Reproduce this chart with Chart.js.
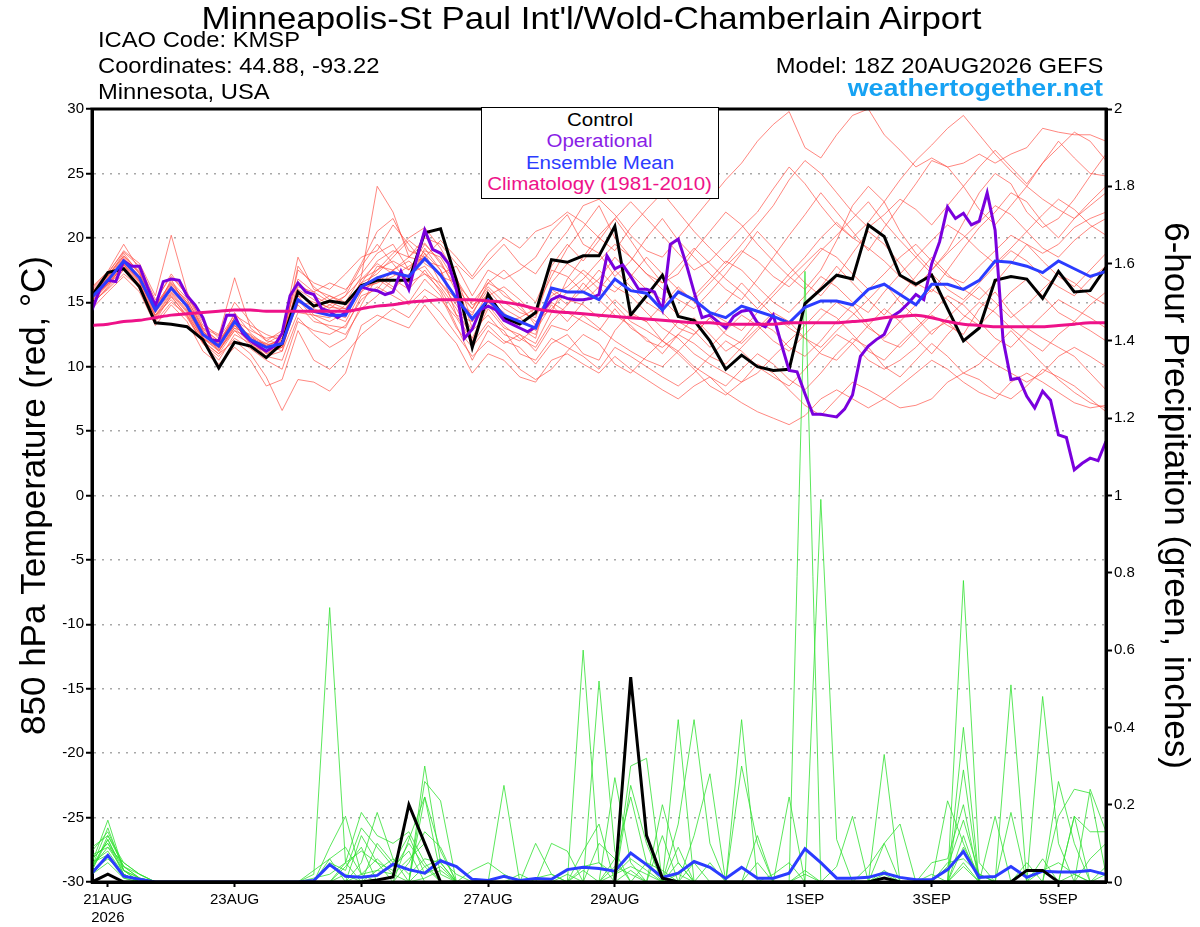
<!DOCTYPE html>
<html lang="en">
<head>
    <meta charset="UTF-8">
    <title>KMSP GEFS Plume</title>
    <style>
        body { margin: 0; background: #fff; font-family: "Liberation Sans", Arial, sans-serif; }
        #wrap { position: relative; width: 1200px; height: 927px; overflow: hidden; }
        #plume { position: absolute; left: 0; top: 0; }
        .hdr { position: absolute; white-space: nowrap; line-height: 1; color: #000; }
        .hdr span { display: inline-block; }
        #title { left: 0; width: 1182px; text-align: center; top: 2px; font-size: 32px; }
        #title span { transform: scaleX(1.088); transform-origin: center; }
        .info { left: 98px; font-size: 22px; }
        .info span { transform: scaleX(1.08); transform-origin: left; }
        .right { left: auto; right: 97px; text-align: right; }
        .right span { transform-origin: right; }
        #site { font-size: 24px; font-weight: bold; color: #16a2f3; top: 76px; }
        #site span { transform: scaleX(1.12); }
        #legendBox {
            position: absolute; left: 481px; top: 107px; width: 236px; height: 88.5px;
            border: 1.5px solid #000; background: #fff; text-align: center;
            font-size: 18px; padding-top: 1.5px; box-sizing: content-box;
        }
        #legendBox div { line-height: 21.5px; height: 21.5px; }
        #legendBox span { display: inline-block; transform: scaleX(1.14); transform-origin: center; }
    </style>
    <!-- Chart.js -->
    <script src="https://cdn.jsdelivr.net/npm/chart.js"></script>
</head>
<body>
<div id="wrap">
    <canvas id="plume" width="1200" height="927"></canvas>
    <div id="title" class="hdr"><span>Minneapolis-St Paul Int'l/Wold-Chamberlain Airport</span></div>
    <div class="hdr info" style="top:29px"><span>ICAO Code: KMSP</span></div>
    <div class="hdr info" style="top:55px"><span>Coordinates: 44.88, -93.22</span></div>
    <div class="hdr info" style="top:81px"><span>Minnesota, USA</span></div>
    <div class="hdr info right" style="top:55px"><span>Model: 18Z 20AUG2026 GEFS</span></div>
    <div id="site" class="hdr right"><span>weathertogether.net</span></div>
    <div id="legendBox">
        <div style="color:#000"><span>Control</span></div>
        <div style="color:#8a1ee6"><span>Operational</span></div>
        <div style="color:#2b3cff"><span>Ensemble Mean</span></div>
        <div style="color:#ee1289"><span>Climatology (1981-2010)</span></div>
    </div>
</div>

<script>
    // x axis: hours after 18Z 20AUG2026, 6-hourly for the ensemble, 3-hourly for the operational run
    const STEP = 6;
    const OP_STEP = 3;
    const tickHours = [6, 54, 102, 150, 198, 270, 318, 366];
    const tickLabels = [['21AUG', '2026'], '23AUG', '25AUG', '27AUG', '29AUG', '1SEP', '3SEP', '5SEP'];

    // 850 hPa temperature (C)
    const controlTemp = [15.5,17.3,17.6,16.2,13.4,13.3,13.1,12.1,9.9,11.9,11.6,10.7,11.8,
        15.8,14.7,15.1,14.9,16.3,16.7,16.7,16.7,20.4,20.7,16.7,11.5,15.6,
        13.8,13.3,14.2,18.3,18.1,18.6,18.6,20.9,14.0,15.5,17.1,13.9,13.6,
        12.0,9.8,10.9,10.0,9.7,9.8,14.9,16.0,17.1,16.8,21.0,20.1,17.1,16.4,
        17.1,14.5,12.0,13.0,16.7,17.0,16.8,15.3,17.4,15.8,15.9,17.7];

    const meanTemp = [15.4,16.7,18.2,16.9,14.4,16.1,14.7,12.5,11.6,13.5,12.1,11.5,11.8,
        15.2,14.3,14.0,14.0,16.2,16.9,17.3,17.0,18.4,17.1,15.3,13.7,15.2,
        14.0,13.5,13.0,16.1,15.8,15.8,15.2,16.8,15.9,15.7,14.4,15.8,15.2,
        14.2,13.8,14.7,14.3,13.9,13.4,14.6,15.1,15.1,14.8,16.0,16.4,15.6,14.8,
        16.4,16.4,16.0,16.7,18.2,18.1,17.8,17.3,18.2,17.6,17.0,17.4];

    const climoTemp = [13.2,13.3,13.5,13.6,13.8,14.0,14.1,14.2,14.3,14.4,14.4,14.3,14.3,
        14.3,14.3,14.3,14.3,14.5,14.7,14.8,15.0,15.1,15.2,15.2,15.2,15.1,
        15.0,14.8,14.5,14.3,14.2,14.1,14.0,13.9,13.8,13.7,13.6,13.5,13.4,
        13.4,13.3,13.3,13.3,13.3,13.4,13.4,13.4,13.4,13.5,13.6,13.8,13.9,14.0,
        13.8,13.5,13.3,13.2,13.1,13.1,13.1,13.1,13.2,13.3,13.4,13.4];

    const operationalTemp = [14.4,16.0,16.7,16.6,18.2,17.8,17.8,16.2,14.7,16.6,16.8,16.7,15.5,14.8,13.8,12.1,
        12.0,14.0,14.0,12.6,12.0,11.6,11.2,11.6,12.6,15.5,16.5,15.8,15.6,14.5,14.3,13.8,14.2,
        15.2,16.2,16.0,15.9,15.6,15.8,17.4,16.0,18.4,20.6,19.1,18.8,18.0,16.0,12.2,12.9,14.4,
        14.7,14.4,13.6,13.3,13.0,12.7,13.1,14.4,15.2,15.5,15.3,15.2,15.2,15.3,
        15.6,18.6,17.6,17.9,17.0,16.0,16.0,15.8,14.4,19.5,19.9,18.0,15.8,13.8,14.0,13.5,
        13.0,13.9,14.3,14.4,13.4,13.1,14.0,11.8,9.7,9.6,7.9,6.3,6.3,6.2,6.1,6.7,
        7.8,10.8,11.6,12.1,12.5,13.9,14.3,14.9,15.6,15.2,18.0,19.7,22.4,21.5,21.9,21.0,
        21.3,23.5,20.6,12.1,9.0,9.1,7.7,6.8,8.1,7.4,4.7,4.5,2.0,2.5,2.9,2.7,4.2];

    const memberTemps = [
        [15.8,17.0,18.8,17.2,14.8,16.5,15.0,12.8,11.2,13.0,12.5,11.0,11.5, 16.0,15.2,14.5,15.5,17.8,19.5,18.0,16.5,19.2,17.5,14.0,12.0,14.5, 13.0,12.5,11.8,14.2,16.8,18.5,20.2,21.5,19.8,18.0,16.5,17.2,19.0, 20.5,22.0,21.0,19.5,18.2,17.0,16.0,17.5,19.8,22.5,24.0,22.8,20.5, 18.8,17.5,19.0,21.2,23.5,25.0,24.2,22.0,20.8,21.5,23.0,24.8,26.5],
        [15.2,16.4,17.8,16.5,13.9,15.6,14.2,12.0,11.0,12.8,11.6,11.2,12.0, 14.8,13.5,13.2,13.0,15.5,16.0,17.5,18.5,19.6,18.0,16.2,14.5,16.8, 15.5,14.8,13.2,15.0,14.2,13.5,12.8,14.5,13.0,12.2,11.0,12.5,13.8, 12.5,11.2,12.0,13.5,12.8,11.5,10.8,12.0,13.5,14.8,13.2,12.0,11.5, 12.8,14.0,13.2,12.5,14.5,15.8,14.2,13.0,12.2,11.5,10.8,9.5,8.2],
        [14.8,16.2,18.0,16.0,14.0,15.2,13.8,11.8,10.5,12.5,11.8,10.8,10.5, 13.8,12.5,11.5,12.2,14.8,17.0,16.2,15.0,16.8,15.5,13.0,11.5,13.2, 12.0,11.5,10.2,11.8,12.5,11.0,10.5,12.8,14.2,13.5,12.0,11.2,10.0, 9.2,8.5,9.8,11.0,10.2,9.0,8.2,9.5,11.0,12.2,11.5,10.0,9.2, 10.5,11.8,10.8,9.5,10.2,11.5,12.8,11.5,10.2,9.0,8.0,7.2,6.8],
        [16.2,17.4,19.5,17.5,15.0,17.2,15.5,13.5,12.2,14.0,13.2,12.5,12.0, 17.5,16.5,16.0,17.2,18.5,19.0,21.0,19.5,18.0,17.2,17.8,15.5,17.5, 16.8,17.5,18.5,20.5,21.8,19.5,18.8,17.0,18.2,20.0,21.5,19.8,18.5, 17.2,16.0,15.2,16.8,18.5,20.2,21.8,23.5,22.0,20.5,19.0,20.8,22.5, 24.2,26.0,25.5,24.0,22.2,21.0,22.5,24.0,25.8,27.0,28.2,27.5,26.0],
        [15.0,16.0,17.2,16.2,13.5,15.0,14.0,12.2,11.5,13.8,12.0,11.8,12.5, 15.5,14.0,13.5,14.2,16.0,17.5,18.8,20.0,20.8,19.2,17.0,13.5,15.0, 13.8,13.0,12.2,16.5,18.0,17.2,16.0,17.5,16.2,15.0,14.2,13.0,12.5, 13.8,15.0,16.5,15.2,14.0,13.2,14.8,16.2,17.8,16.5,15.2,14.0,15.5, 17.0,18.5,17.2,16.0,15.2,16.5,18.0,19.5,18.2,17.0,16.2,17.5,18.8],
        [15.6,16.8,18.4,17.0,14.5,16.0,14.8,12.6,11.8,13.2,12.4,11.8,11.2, 15.8,14.8,14.2,13.8,16.8,18.0,17.2,16.8,18.8,16.5,14.8,12.8,14.0, 12.5,12.0,13.0,15.8,14.8,16.5,15.2,14.0,13.2,12.0,11.5,12.5,11.8, 10.8,10.2,11.5,12.8,14.0,13.0,12.2,11.0,10.5,11.8,13.2,14.5,13.5, 12.2,11.0,12.5,13.8,15.0,14.2,13.0,12.0,11.2,12.5,13.5,12.8,12.0],
        [16.0,17.2,19.0,18.0,15.5,20.2,15.8,13.2,12.5,15.0,13.5,12.0,12.8, 18.5,16.0,15.5,15.0,17.0,24.0,22.0,18.5,20.0,19.5,18.0,16.8,18.2, 19.5,18.0,17.2,19.0,20.5,22.5,23.0,21.8,20.2,19.0,18.5,20.0,21.5, 23.0,24.5,25.8,27.5,28.8,29.8,27.0,26.2,28.0,29.5,30.0,28.0,26.8, 25.5,26.2,25.5,25.8,26.5,25.8,26.5,27.0,28.5,28.2,28.0,28.0,27.5],
        [14.5,15.8,17.0,15.8,13.2,14.8,13.5,11.2,10.2,11.5,10.5,8.5,9.0, 12.8,10.5,9.8,11.0,12.5,13.5,14.5,13.8,15.5,14.2,12.5,10.8,12.0, 11.2,9.8,9.0,9.8,11.2,12.5,11.8,10.2,9.5,10.8,12.0,11.0,9.8, 8.5,7.8,8.8,10.2,9.5,8.2,7.0,6.2,7.5,8.8,8.2,7.5,6.8, 7.0,7.5,8.8,9.5,9.0,8.0,7.5,8.5,9.8,9.2,8.5,7.5,6.5],
        [15.4,16.6,18.0,16.8,14.2,16.8,14.5,12.5,11.5,13.2,12.0,10.8,11.2, 14.2,14.0,13.8,14.8,16.5,17.2,18.5,19.8,18.8,17.5,15.0,14.2,16.0, 14.5,13.8,14.5,17.0,19.2,20.8,22.5,20.0,18.5,17.2,16.0,15.2,14.5, 15.8,17.2,18.8,20.5,19.2,17.8,16.5,15.5,17.0,18.8,20.5,19.5,18.0, 16.5,15.8,17.5,19.2,20.8,22.0,23.5,22.8,21.2,20.0,21.5,22.8,24.0],
        [15.9,17.1,18.6,17.4,14.8,16.2,15.2,13.0,12.0,13.8,12.2,11.5,11.8, 16.5,15.5,14.8,14.2,16.0,16.5,17.0,17.8,18.5,17.0,16.5,13.0,15.2, 14.2,13.0,12.5,16.0,15.2,14.8,13.8,15.2,14.0,13.5,14.8,16.2,15.0, 14.2,13.5,12.8,14.2,15.5,16.8,18.0,19.2,18.5,17.2,16.0,17.2,18.5, 19.5,18.2,17.0,16.5,17.8,19.0,20.2,19.5,18.8,19.5,20.8,21.5,22.0],
        [15.3,16.5,18.2,16.6,14.2,15.8,14.4,12.3,11.4,13.0,11.8,11.2,11.5, 15.0,14.5,14.0,13.5,15.8,16.8,16.0,17.2,17.8,16.2,14.5,12.2,14.8, 13.2,12.2,11.5,13.5,14.8,16.0,17.5,16.2,15.5,14.2,13.0,12.2,11.0, 10.2,9.5,8.8,9.5,10.8,12.0,13.2,14.5,13.8,12.5,11.2,10.5,11.8, 13.0,14.2,15.5,14.8,13.5,12.2,11.5,12.8,14.0,15.2,14.5,13.8,13.0],
        [15.7,16.9,18.5,17.2,14.6,16.4,15.0,12.8,11.6,14.2,12.6,11.6,12.2, 16.2,15.8,16.5,16.0,17.2,18.8,19.5,17.5,19.0,18.5,16.5,15.0,16.5, 17.5,16.2,15.0,17.8,19.5,18.2,19.8,21.5,22.8,21.5,20.2,18.8,17.5, 18.2,19.5,20.8,22.0,23.8,25.5,24.2,22.5,21.0,20.0,21.2,22.8,24.5, 26.0,27.2,28.5,29.5,28.0,26.5,25.2,24.0,23.0,22.2,21.5,22.5,23.5],
        [15.1,16.3,17.6,16.4,13.8,15.4,14.0,11.8,10.8,12.2,11.4,10.5,9.8, 13.5,12.8,12.5,13.2,15.2,16.2,15.5,14.8,16.0,15.2,13.8,11.8,13.5, 12.8,11.0,10.5,12.2,11.5,10.8,9.8,11.5,10.8,10.0,9.2,8.5,9.5, 10.8,12.0,11.2,10.0,9.2,8.5,9.8,11.2,12.5,11.8,10.5,9.8,10.5, 11.5,12.8,13.5,12.2,11.0,10.2,9.5,8.8,9.5,10.8,11.5,10.8,10.0],
        [15.5,16.7,18.1,16.9,14.6,15.9,14.6,12.4,11.8,13.8,12.0,11.5,12.2, 15.2,14.2,14.8,15.5,16.8,17.5,18.2,17.5,19.5,18.2,15.8,14.5,16.2, 15.0,14.2,13.8,17.5,17.0,15.8,16.8,18.5,17.2,16.0,15.2,14.0,15.5, 16.8,18.2,17.5,16.2,15.0,14.2,15.5,17.0,16.2,15.0,14.2,15.8,17.2, 18.5,17.2,16.0,15.2,16.5,17.8,19.0,18.2,17.0,16.2,15.5,16.8,17.8],
        [14.9,16.1,17.5,16.3,13.6,15.5,13.9,11.9,11.0,12.0,11.0,9.2,6.6, 9.0,8.8,8.1,9.5,13.2,14.0,13.5,13.0,14.8,13.2,11.8,9.5,11.0, 10.5,9.2,8.8,10.5,11.0,10.2,9.5,10.8,9.8,9.0,8.2,7.5,8.5, 9.2,8.0,7.2,6.5,6.0,5.5,6.2,7.5,8.2,7.5,6.8,7.5,8.5, 9.5,10.5,9.8,8.8,8.0,7.5,8.8,9.5,8.8,8.0,7.2,6.8,7.0],
        [16.1,17.3,18.9,17.8,15.2,17.0,15.6,13.0,12.4,16.9,13.0,12.0,11.8, 17.8,16.2,15.2,15.8,18.0,20.5,21.5,19.0,18.5,19.8,18.5,17.0,18.8, 20.0,19.2,20.5,21.0,22.0,21.2,20.0,19.0,20.8,22.2,23.5,22.0,20.5, 19.2,18.0,19.5,21.0,22.5,24.5,26.0,25.0,23.5,22.0,20.8,21.8,23.0, 22.2,21.0,22.5,24.0,25.5,26.8,25.5,24.2,25.8,27.5,26.2,25.0,24.8],
        [15.2,16.5,17.9,16.7,14.0,15.7,14.3,12.2,11.2,13.2,12.0,11.0,11.8, 15.0,14.8,15.5,14.8,16.2,16.5,17.5,16.5,17.2,16.0,14.0,13.5,15.8, 13.5,13.8,12.8,14.8,13.5,15.0,16.2,14.8,13.5,12.8,12.0,13.5,12.8, 11.5,12.8,14.0,13.2,12.0,11.2,12.5,13.8,15.0,14.2,13.0,12.2,13.5, 14.8,16.0,15.2,14.0,13.2,14.5,15.8,16.8,15.5,14.2,13.5,14.8,15.8],
        [15.6,16.9,18.2,17.0,14.4,16.2,14.9,12.7,11.9,13.5,12.3,11.7,12.0, 15.5,15.0,14.6,14.5,16.5,18.2,19.0,18.5,18.2,17.8,16.8,14.8,15.5, 16.2,15.2,14.0,15.5,16.2,17.5,16.5,15.8,17.0,18.5,17.2,16.0,15.2, 16.5,17.8,19.0,18.2,17.0,16.2,17.5,19.0,20.2,21.5,22.8,21.2,19.8, 18.5,19.8,21.0,20.2,19.0,18.0,19.2,20.5,21.8,23.0,22.2,21.0,20.2],
        [15.3,16.4,17.9,16.6,14.3,16.3,14.6,12.2,11.3,12.8,12.2,11.6,11.5, 15.2,13.8,13.0,12.5,14.5,15.5,16.8,16.0,17.5,15.8,13.2,10.5,12.8, 11.8,12.5,11.2,13.2,12.8,14.0,13.0,12.0,11.2,10.5,10.0,11.2,12.5, 13.8,12.5,11.8,13.0,14.2,13.5,12.2,11.5,12.8,14.0,15.2,16.5,15.0, 13.8,12.5,13.8,15.0,16.2,15.0,13.8,14.8,16.0,17.2,16.5,15.5,14.8],
        [15.8,17.0,18.6,17.3,14.7,16.6,15.3,12.9,12.0,13.6,12.8,12.2,12.5, 16.8,15.8,15.0,14.5,15.8,17.8,17.5,18.2,17.2,16.5,15.2,14.0,16.5, 15.8,14.5,13.5,14.5,15.8,16.8,18.2,19.5,18.5,17.2,16.5,17.8,19.2, 18.0,16.8,15.8,14.5,15.8,17.2,18.5,20.0,21.2,20.0,19.2,18.2,17.0, 16.2,17.5,18.8,20.0,21.2,22.5,21.8,20.5,19.2,18.5,19.8,20.8,21.5]
    ];

    // 6-hour precipitation (inches)
    const controlPrecip = [0,0.02,0,0,0,0,0,0,0,0,0,0,0, 0,0,0,0,0,0.005,0.013,0.20,0.10,0,0,0,0, 0,0,0,0,0,0,0,0,0.53,0.12,0.01,0,0, 0,0,0,0,0,0,0,0,0,0,0,0.01,0, 0,0,0,0,0,0,0,0.03,0.03,0,0,0,0];

    const meanPrecip = [0.023,0.069,0.015,0.007,0,0,0,0,0,0,0,0,0, 0,0.004,0.045,0.015,0.012,0.017,0.046,0.032,0.023,0.055,0.040,0.007,0.004, 0.015,0.004,0.009,0.007,0.032,0.038,0.035,0.028,0.075,0.045,0.012,0.023,0.053, 0.038,0.009,0.038,0.010,0.010,0.023,0.086,0.050,0.010,0.010,0.012,0.023,0.012, 0.006,0.006,0.032,0.079,0.012,0.014,0.040,0.012,0.028,0.026,0.026,0.030,0.019];

    const memberPrecips = [
        [0.05,0.16,0.03,0.01,0,0,0,0,0,0,0,0,0, 0,0.02,0.71,0.05,0,0,0,0,0,0,0,0,0, 0,0,0,0,0,0.60,0.05,0,0,0,0,0,0, 0,0,0,0,0,0,0,0,0,0,0,0.02,0, 0,0,0,0.78,0.05,0,0,0,0,0,0,0,0],
        [0.03,0.12,0.04,0.02,0,0,0,0,0,0,0,0,0, 0,0,0.09,0.17,0.02,0,0,0,0.30,0.05,0,0,0, 0,0,0.10,0.02,0,0,0.52,0.08,0,0,0,0.42,0, 0,0,0,0,0,0,1.58,0,0,0,0,0,0, 0,0,0,0.40,0,0,0.51,0,0,0,0,0,0],
        [0.06,0.10,0.02,0,0,0,0,0,0,0,0,0,0, 0,0.03,0.06,0,0.05,0.18,0.06,0,0.26,0.21,0,0,0, 0.25,0,0,0,0,0,0,0.27,0.05,0,0,0,0, 0,0,0,0,0,0,0,0.99,0.11,0,0,0.33,0, 0,0,0,0,0,0,0,0,0.48,0.10,0,0,0],
        [0.04,0.09,0.05,0.02,0,0,0,0,0,0,0,0,0, 0,0,0,0.05,0.18,0.12,0.10,0.13,0.05,0,0,0,0, 0,0,0,0,0,0,0,0,0.30,0.32,0,0,0, 0,0,0.30,0.10,0,0,0,0,0,0,0,0,0, 0,0,0,0.29,0,0,0.18,0,0,0.26,0.10,0,0],
        [0.02,0.07,0.01,0,0,0,0,0,0,0,0,0,0, 0,0,0,0,0,0,0,0.11,0.22,0.08,0,0,0, 0,0,0,0,0,0.08,0.15,0,0,0,0,0,0.12, 0.28,0,0,0,0,0.22,0,0,0,0,0,0,0, 0,0,0.21,0.10,0,0.17,0,0,0,0,0,0.24,0.13],
        [0.08,0.13,0.04,0.01,0,0,0,0,0,0,0,0,0, 0,0,0.05,0.03,0.14,0.09,0.04,0.08,0,0,0,0,0, 0,0,0,0,0,0,0,0,0.25,0.10,0,0.15,0.42, 0.10,0,0,0.12,0,0,0,0,0.04,0.17,0,0.10,0, 0,0,0,0,0,0,0,0,0,0.17,0.24,0.23,0.02],
        [0.03,0.11,0.03,0,0,0,0,0,0,0,0,0,0, 0,0,0,0,0.12,0.05,0.03,0.10,0.04,0,0,0,0, 0,0,0,0.10,0.08,0,0,0,0,0,0.12,0,0, 0,0,0.42,0,0,0,0,0,0,0,0,0,0, 0,0,0.05,0.06,0.02,0,0,0,0,0,0.17,0.13,0.13],
        [0.05,0.08,0.02,0,0,0,0,0,0,0,0,0,0, 0,0,0.06,0.09,0.02,0.06,0.02,0,0.22,0.02,0,0,0, 0,0,0,0,0.02,0,0.10,0.06,0.22,0.05,0,0,0, 0,0,0,0,0,0,0.02,0,0,0,0.04,0.10,0.15, 0,0,0,0.05,0,0,0,0,0.06,0,0,0,0],
        [0.04,0.14,0.03,0.01,0,0,0,0,0,0,0,0,0, 0,0.01,0.02,0.05,0.08,0.05,0,0.05,0.13,0.09,0,0,0, 0,0,0,0,0,0,0,0.06,0,0,0,0,0, 0,0,0,0,0,0,0,0,0,0,0,0,0, 0,0.02,0,0.09,0.02,0,0,0.05,0,0,0.17,0,0],
        [0.06,0.10,0.04,0.01,0,0,0,0,0,0,0,0,0, 0,0,0,0,0,0.03,0.02,0.06,0.10,0,0,0,0, 0,0,0,0,0,0,0,0,0.03,0,0.20,0.05,0, 0,0,0,0,0,0,0,0,0,0,0,0,0, 0,0.05,0.06,0.20,0,0,0,0,0,0,0,0.06,0.10],
        [0.07,0.09,0.03,0,0,0,0,0,0,0,0,0,0, 0,0,0,0,0.02,0.03,0.06,0.02,0.06,0.05,0,0,0, 0,0,0,0,0,0,0,0,0,0,0,0.09,0, 0.05,0,0,0,0,0,0,0,0,0,0,0,0, 0,0,0,0.04,0,0,0,0,0,0,0,0,0.02],
        [0.03,0.06,0.02,0,0,0,0,0,0,0,0,0,0, 0,0,0,0.02,0,0,0,0,0,0,0,0.03,0.05, 0.02,0,0,0,0,0.03,0,0.04,0.02,0,0,0,0.05, 0,0,0,0,0.02,0.05,0,0,0,0,0,0,0, 0,0,0,0,0,0,0,0,0,0,0,0,0],
        [0.09,0.12,0.05,0.02,0,0,0,0,0,0,0,0,0, 0,0,0,0,0,0.10,0.05,0.12,0.02,0.04,0,0,0, 0,0,0,0,0,0.04,0.05,0.02,0.06,0.03,0,0,0, 0,0,0,0.05,0,0,0,0,0,0,0,0,0, 0,0,0,0.12,0,0,0,0,0,0,0,0,0],
        [0.02,0.05,0.01,0,0,0,0,0,0,0,0,0,0, 0,0,0,0,0,0,0,0,0.04,0.06,0.02,0,0, 0,0.02,0,0,0,0,0,0.02,0.04,0.02,0,0.05,0, 0,0,0,0,0,0,0,0,0,0,0,0.03,0, 0,0,0,0,0,0,0,0,0,0,0,0,0],
        [0.05,0.07,0.02,0,0,0,0,0,0,0,0,0,0, 0,0,0,0,0,0,0,0,0.01,0.03,0,0,0, 0,0,0.01,0.02,0,0,0,0,0,0,0,0.02,0, 0,0,0,0,0,0,0.03,0,0,0,0,0,0, 0,0,0,0,0,0,0,0,0.03,0.05,0.02,0,0],
        [0.04,0.11,0.02,0,0,0,0,0,0,0,0,0,0, 0,0,0,0.04,0.09,0,0,0,0,0,0,0,0, 0,0,0,0,0,0,0,0,0,0.05,0.03,0,0, 0,0,0,0,0,0,0,0,0,0,0,0,0, 0,0,0.04,0.16,0.02,0,0,0,0,0,0.02,0,0.04,0]
    ];

    // turn a value list into {x, y} points on the hour axis
    function toPoints(values, step) {
        return values.map((v, i) => ({ x: i * step, y: v }));
    }

    function line(values, step, axis, color, width, order, extra) {
        return Object.assign({
            data: toPoints(values, step),
            yAxisID: axis,
            borderColor: color,
            borderWidth: width,
            pointRadius: 0,
            tension: 0,
            fill: false,
            order: order
        }, extra || {});
    }

    const datasets = [];
    memberTemps.forEach(m => datasets.push(line(m, STEP, 'y', 'rgba(255,70,60,0.65)', 1, 6)));
    memberPrecips.forEach(m => datasets.push(line(m, STEP, 'y1', 'rgba(50,225,50,0.8)', 1, 5)));
    datasets.push(line(controlPrecip, STEP, 'y1', '#000', 3, 4));
    datasets.push(line(meanPrecip, STEP, 'y1', '#2b3cff', 3, 4));
    datasets.push(line(controlTemp, STEP, 'y', '#000', 3, 3));
    datasets.push(line(operationalTemp, OP_STEP, 'y', '#7a00dd', 3, 2));
    datasets.push(line(meanTemp, STEP, 'y', '#2b3cff', 3, 1));
    datasets.push(line(climoTemp, STEP, 'y', '#ee1289', 3, 0, { cubicInterpolationMode: 'monotone' }));

    // thick box around the plot area
    const framePlugin = {
        id: 'frame',
        afterDatasetsDraw(chart) {
            const { ctx, chartArea: a } = chart;
            ctx.save();
            ctx.lineWidth = 3;
            ctx.strokeStyle = '#000';
            ctx.strokeRect(a.left, a.top, a.right - a.left, a.bottom - a.top);
            ctx.restore();
        }
    };

    const tickFont = { family: '"Liberation Sans", Arial, sans-serif', size: 15 };
    const titleFont = { family: '"Liberation Sans", Arial, sans-serif', size: 35 };

    new Chart(document.getElementById('plume').getContext('2d'), {
        type: 'line',
        data: { datasets: datasets },
        plugins: [framePlugin],
        options: {
            responsive: false,
            animation: false,
            devicePixelRatio: 1,
            layout: { padding: { top: 109, left: 0, right: 0, bottom: 0 } },
            plugins: { legend: { display: false }, tooltip: { enabled: false } },
            scales: {
                x: {
                    type: 'linear',
                    min: 0,
                    max: 384,
                    afterBuildTicks: axis => { axis.ticks = tickHours.map(v => ({ value: v })); },
                    afterFit: axis => { axis.height = 45; },
                    ticks: {
                        autoSkip: false,
                        maxRotation: 0,
                        color: '#000',
                        font: tickFont,
                        padding: 4,
                        callback: value => tickLabels[tickHours.indexOf(value)]
                    },
                    grid: { drawOnChartArea: false, tickLength: 5, tickColor: '#000', tickWidth: 2 },
                    border: { color: '#000', width: 3 }
                },
                y: {
                    position: 'left',
                    min: -30,
                    max: 30,
                    afterFit: axis => { axis.width = 92; },
                    ticks: { stepSize: 5, color: '#000', font: tickFont, padding: 2 },
                    grid: { color: '#a8a8a8', lineWidth: 1.5, tickLength: 6, tickColor: '#000', tickWidth: 2, tickBorderDash: [] },
                    border: { color: '#000', width: 3, dash: [2, 6] },
                    title: {
                        display: true,
                        text: '850 hPa Temperature (red, \u00B0C)',
                        color: '#000',
                        font: titleFont,
                        padding: { top: 14, bottom: 0 }
                    }
                },
                y1: {
                    position: 'right',
                    min: 0,
                    max: 2,
                    afterFit: axis => { axis.width = 94; },
                    ticks: {
                        stepSize: 0.2,
                        color: '#000',
                        font: tickFont,
                        padding: 2,
                        callback: v => String(Math.round(v * 10) / 10)
                    },
                    grid: { drawOnChartArea: false, tickLength: 6, tickColor: '#000', tickWidth: 2 },
                    border: { color: '#000', width: 3 },
                    title: {
                        display: true,
                        text: '6-hour Precipitation (green, inches)',
                        color: '#000',
                        font: titleFont,
                        padding: { top: 4, bottom: 0 }
                    }
                }
            }
        }
    });
</script>
</body>
</html>
